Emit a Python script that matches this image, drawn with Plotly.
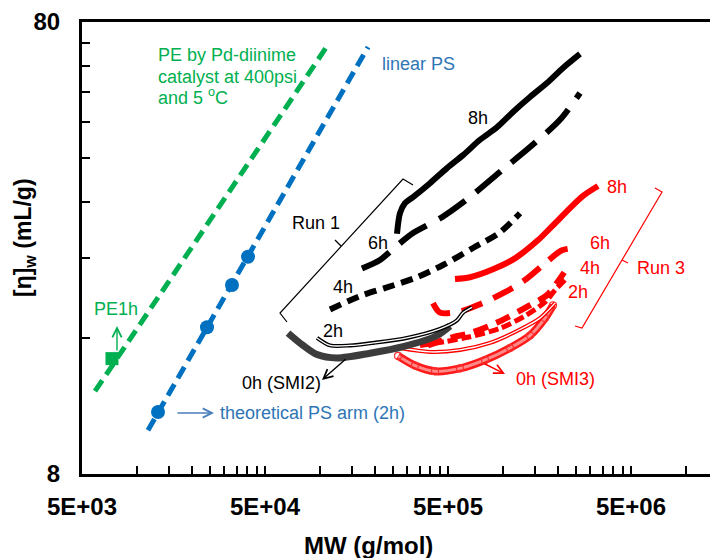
import math
import plotly.graph_objects as go

# ---------------- data ----------------
pe_line_mw = [5890, 110400]
pe_line_eta = [12.2, 71.2]
pe1h_mw = [7290]
pe1h_eta = [14.4]

ps_line_mw = [11470, 182700]
ps_line_eta = [10.0, 70.4]
ps_arm_mw = [13010, 24100, 33000, 40370]
ps_arm_eta = [10.97, 16.9, 20.96, 24.2]

run1_8h_mw = [263200, 273300, 291000, 322000, 398700, 493700, 604000, 748000,
              926000, 1133000, 1403000, 1737000, 2125000, 2632000]
run1_8h_eta = [27.2, 30.2, 31.8, 32.8, 35.2, 38.0, 40.6, 43.9, 46.8, 50.6,
               54.6, 58.6, 63.3, 68.0]
run1_6h_mw = [169400, 212500, 263200, 322000, 463600, 659600, 986500, 1403000,
              2046000, 2632000]
run1_6h_eta = [22.8, 23.8, 25.6, 27.3, 29.6, 32.8, 37.6, 42.3, 48.6, 55.7]
run1_4h_mw = [113300, 165200, 232100, 338500, 469500, 684600, 962000, 1237000]
run1_4h_eta = [18.5, 19.8, 20.7, 21.8, 23.2, 25.3, 27.4, 30.2]
run1_2h_mw = [96200, 113300, 145700, 194600, 298500, 452000, 560000, 604000, 676000]
run1_2h_eta = [16.0, 15.4, 15.4, 15.6, 16.0, 16.75, 17.5, 18.2, 18.7]
run1_0h_mw = [66800, 80700, 96200, 123700, 187400, 284000, 435400, 512500]
run1_0h_eta = [16.4, 15.4, 14.7, 14.45, 14.8, 15.3, 16.2, 17.0]

run3_8h_mw = [546000, 659600, 881000, 1161000, 1532000, 1874000, 2321000, 2734000, 3301000]
run3_8h_eta = [21.6, 21.8, 22.7, 24.0, 26.2, 28.4, 31.0, 33.0, 34.7]
run3_6h_mw = [414000, 452000, 581300, 748000, 1024000, 1318000, 1694000, 2099000, 2472000]
run3_6h_eta = [19.1, 18.2, 18.3, 19.0, 20.2, 21.5, 23.4, 25.0, 25.3]
run3_4h_mw = [388700, 512500, 659600, 926000, 1403000, 1737000, 1970000, 2234000]
run3_4h_eta = [15.4, 16.0, 16.4, 17.3, 18.9, 19.9, 21.2, 22.8]
run3_2h_mw = [351600, 481500, 659600, 962000, 1318000, 1694000, 1921000, 2179000]
run3_2h_eta = [15.4, 15.7, 16.1, 16.8, 17.9, 19.2, 20.4, 21.5]
run3_0h_mw = [273300, 398700, 581300, 848000, 1237000, 1591000, 1921000]
run3_0h_eta = [15.2, 14.9, 15.05, 15.6, 16.7, 17.7, 19.1]
run3_0h_pts_mw = [266600, 330100, 424600, 581300, 796500, 1091000, 1403000, 1694000, 1874000]
run3_0h_pts_eta = [14.6, 13.9, 13.5, 13.7, 14.3, 15.2, 16.2, 17.7, 18.9]

x_tick_vals = [5e3, 5e4, 5e5, 5e6]
x_tick_text = ["5E+03", "5E+04", "5E+05", "5E+06"]
y_tick_vals = [8, 80]
y_tick_text = ["8", "80"]

# ---------------- styling / layout helpers ----------------
FONT = "Arial, Liberation Sans, sans-serif"
GREEN = "#00B050"
BLUE = "#0070C0"
BLUE_TXT = "#2E75B6"
RED = "#FF0000"
L, T, W, H = 82, 22, 628, 452


def P(px, py):
    return (px - L) / W, (T + H - py) / H


fig = go.Figure()


def line(x, y, color, width, dash="solid", mode="lines", marker=None):
    fig.add_trace(go.Scatter(x=x, y=y, mode=mode,
                             line=dict(color=color, width=width, dash=dash,
                                       shape="spline", smoothing=0.8),
                             marker=marker or {}, showlegend=False,
                             hoverinfo="skip"))


# fit lines
fig.add_trace(go.Scatter(x=pe_line_mw, y=pe_line_eta, mode="lines",
                         line=dict(color=GREEN, width=5, dash="13px,7px"),
                         showlegend=False))
fig.add_trace(go.Scatter(x=ps_line_mw, y=ps_line_eta, mode="lines",
                         line=dict(color=BLUE, width=5, dash="13px,7px"),
                         showlegend=False))
fig.add_trace(go.Scatter(x=pe1h_mw, y=pe1h_eta, mode="markers",
                         marker=dict(symbol="square", size=13, color=GREEN),
                         showlegend=False))
fig.add_trace(go.Scatter(x=ps_arm_mw, y=ps_arm_eta, mode="markers",
                         marker=dict(symbol="circle", size=14, color=BLUE),
                         showlegend=False))

# Run 3 (red)
line(run3_0h_pts_mw, run3_0h_pts_eta, "#FF1A1A", 8)
line(run3_0h_pts_mw, run3_0h_pts_eta, "#FF8A8A", 3)
line(run3_0h_pts_mw, run3_0h_pts_eta, "#FF3030", 1, mode="markers",
     marker=dict(symbol="circle-open", size=7, color="#FF3030", line=dict(width=1.2)))
line(run3_0h_mw, run3_0h_eta, RED, 4)
line(run3_0h_mw, run3_0h_eta, "white", 1.3)
line(run3_2h_mw, run3_2h_eta, RED, 5, "10px,4px")
line(run3_4h_mw, run3_4h_eta, RED, 6, "15px,9px")
line(run3_6h_mw, run3_6h_eta, RED, 6, "22px,12px")
line(run3_8h_mw, run3_8h_eta, RED, 6)

# Run 1 (black)
line(run1_0h_mw, run1_0h_eta, "#3C3C3C", 7)
line(run1_2h_mw, run1_2h_eta, "black", 4)
line(run1_2h_mw, run1_2h_eta, "white", 1.3)
line(run1_4h_mw, run1_4h_eta, "black", 6, "12px,7px")
line(run1_6h_mw, run1_6h_eta, "black", 6, "32px,14px")
line(run1_8h_mw, run1_8h_eta, "black", 6)

# ---------------- annotations ----------------
annots = []


def text(s, px, py, color, anchor="center", size=18):
    x, y = P(px, py)
    annots.append(dict(text=s, x=x, y=y, xref="paper", yref="paper",
                       xanchor=anchor, yanchor="middle", showarrow=False,
                       font=dict(family=FONT, size=size, color=color)))


def arrow(hx, hy, tx, ty, color):
    x, y = P(hx, hy)
    annots.append(dict(text="", x=x, y=y, xref="paper", yref="paper",
                       ax=tx - hx, ay=ty - hy, axref="pixel", ayref="pixel",
                       showarrow=True, arrowhead=5, arrowsize=1.3,
                       arrowwidth=1.4, arrowcolor=color, standoff=0))


text("PE by Pd-diinime", 156, 55, GREEN, "left")
text("catalyst at 400psi", 156, 77, GREEN, "left")
text("and 5 <sup>o</sup>C", 156, 97, GREEN, "left")
text("linear PS", 380, 64, BLUE_TXT, "left")
text("PE1h", 116, 309, GREEN)
text("theoretical PS arm (2h)", 218, 413, BLUE_TXT, "left")
text("8h", 478, 118, "black")
text("6h", 378, 243, "black")
text("4h", 343, 287, "black")
text("2h", 333, 331, "black")
text("Run 1", 316, 223, "black")
text("0h (SMI2)", 281, 383, "black")
text("8h", 617, 187, RED)
text("6h", 600, 243, RED)
text("4h", 590, 268, RED)
text("2h", 578, 292, RED)
text("Run 3", 661, 268, RED)
text("0h (SMI3)", 555, 379, RED)

arrow(117, 326, 117, 352, GREEN)
arrow(214, 413, 176, 413, "#4A7EBB")
arrow(322, 380, 347, 358, "black")
arrow(505, 374, 483, 363, RED)

# axis titles
x, y = P(368, 545)
annots.append(dict(text="MW (g/mol)", x=x, y=y, xref="paper", yref="paper",
                   xanchor="center", yanchor="middle", showarrow=False,
                   font=dict(family=FONT, size=24, color="black", weight="bold")))
x, y = P(25, 238)
annots.append(dict(text="[η]<sub>w</sub> (mL/g)", x=x, y=y, xref="paper", yref="paper",
                   xanchor="center", yanchor="middle", showarrow=False, textangle=-90,
                   font=dict(family=FONT, size=23, color="black", weight="bold")))

# brackets
shapes = []


def path(points, color):
    pts = [P(a, b) for a, b in points]
    d = "M " + " L ".join(f"{a:.5f},{b:.5f}" for a, b in pts)
    shapes.append(dict(type="path", path=d, xref="paper", yref="paper",
                       line=dict(color=color, width=1.2)))


path([(413, 185), (403, 179), (280, 313), (287, 322)], "black")
path([(341, 246), (335, 240)], "black")
path([(655, 188), (662, 192), (582, 328), (575, 326)], RED)
path([(622, 260), (628, 263)], RED)

x_minor = [5e3 * k * 10 ** d for d in range(4) for k in range(2, 10)]
y_minor = [8 * k for k in range(2, 10)]

fig.update_layout(
    width=710, height=558,
    margin=dict(l=L, r=0, t=T, b=558 - T - H),
    paper_bgcolor="white", plot_bgcolor="white",
    annotations=annots, shapes=shapes, showlegend=False,
    xaxis=dict(type="log", range=[math.log10(5000), math.log10(5000) + W / 183],
               tickvals=x_tick_vals, ticktext=x_tick_text,
               ticks="inside", ticklen=8, tickwidth=2, tickcolor="black",
               showline=True, linewidth=3, linecolor="black", mirror=True,
               showgrid=False, zeroline=False, ticklabelstandoff=9,
               tickfont=dict(family=FONT, size=24, color="black", weight="bold"),
               minor=dict(tickvals=x_minor, ticks="inside", ticklen=8,
                          tickwidth=2, tickcolor="black", showgrid=False)),
    yaxis=dict(type="log", range=[math.log10(8), math.log10(80)],
               tickvals=y_tick_vals, ticktext=y_tick_text,
               ticks="inside", ticklen=8, tickwidth=2, tickcolor="black",
               showline=True, linewidth=3, linecolor="black", mirror=False,
               showgrid=False, zeroline=False, ticklabelstandoff=14,
               tickfont=dict(family=FONT, size=24, color="black", weight="bold"),
               minor=dict(tickvals=y_minor, ticks="inside", ticklen=8,
                          tickwidth=2, tickcolor="black", showgrid=False)),
)

fig.write_html("out.html")
